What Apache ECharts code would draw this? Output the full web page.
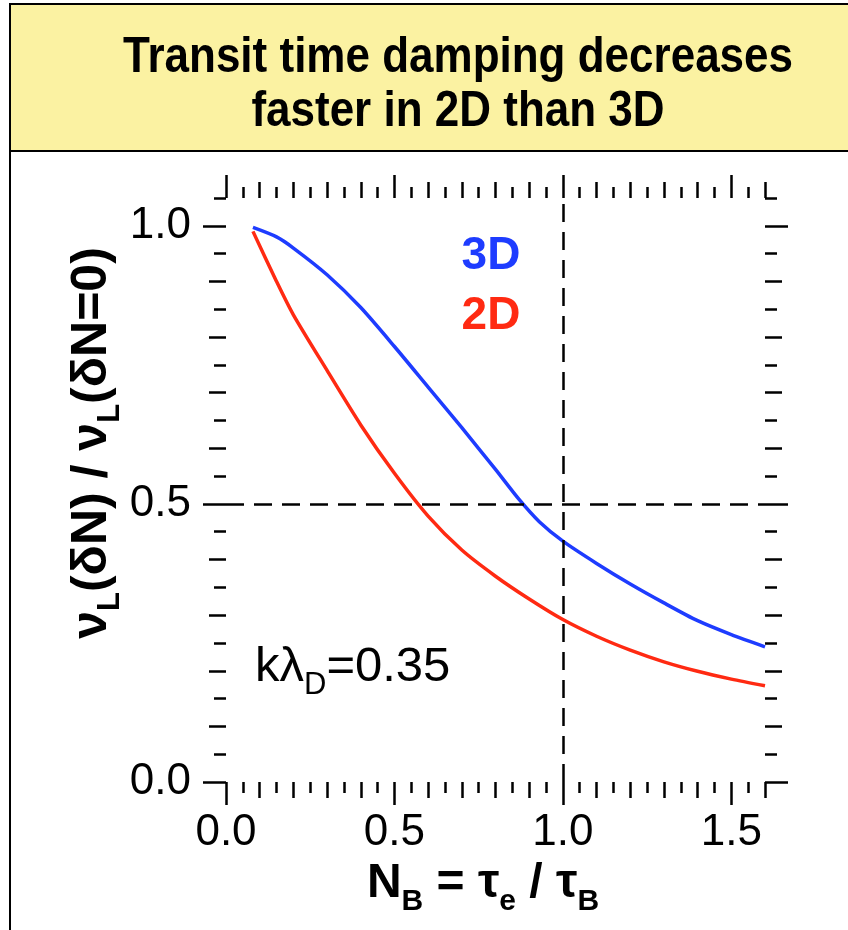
<!DOCTYPE html>
<html>
<head>
<meta charset="utf-8">
<script src="https://cdn.jsdelivr.net/npm/echarts@6/dist/echarts.min.js"></script>
<style>
html,body{margin:0;padding:0;background:#fff;}
#c{width:848px;height:930px;}
</style>
</head>
<body>
<div id="c"></div>
<script>
// ---- data ----
const nB3D = [0.08, 0.15, 0.20, 0.30, 0.40, 0.50, 0.60, 0.70, 0.80, 0.87, 0.93, 1.00, 1.10, 1.20, 1.30, 1.40, 1.50, 1.60];
const ratio3D = [0.997, 0.980, 0.960, 0.912, 0.853, 0.783, 0.710, 0.637, 0.562, 0.508, 0.468, 0.433, 0.393, 0.356, 0.322, 0.290, 0.265, 0.243];
const nB2D = [0.08, 0.15, 0.20, 0.30, 0.40, 0.50, 0.60, 0.70, 0.80, 0.90, 1.00, 1.10, 1.20, 1.30, 1.40, 1.50, 1.60];
const ratio2D = [0.990, 0.900, 0.840, 0.740, 0.642, 0.555, 0.478, 0.417, 0.370, 0.329, 0.292, 0.262, 0.237, 0.216, 0.199, 0.185, 0.173];

// tick values
const xMajorTicks = [0, 0.5, 1.0, 1.5];
const xMidTicks = [0.1, 0.2, 0.3, 0.4, 0.6, 0.7, 0.8, 0.9, 1.1, 1.2, 1.3, 1.4, 1.6];
const xMinorTicks = [0.05, 0.15, 0.25, 0.35, 0.45, 0.55, 0.65, 0.75, 0.85, 0.95, 1.05, 1.15, 1.25, 1.35, 1.45, 1.55];
const yMajorTicks = [0, 0.5, 1.0];
const yMidTicks = [0.1, 0.2, 0.3, 0.4, 0.6, 0.7, 0.8, 0.9];
const yMinorTicks = [0.05, 0.15, 0.25, 0.35, 0.45, 0.55, 0.65, 0.75, 0.85, 0.95, 1.05];
const xRange = [0, 1.6];
const yRange = [0, 1.05];
const refX = 1.0, refY = 0.5;

const FONT = '"Liberation Sans", Arial, Helvetica, sans-serif';
const BLUE = '#1e3cff';
const RED = '#ff2a12';
const TICKW = 2.5;

const chart = echarts.init(document.getElementById('c'), null, {renderer: 'canvas'});

const gridRect = {left: 226, right: 83, top: 198, bottom: 148};

function mkAxis(kind, grid, pos, ticks, len, labels) {
  const a = {
    type: 'value', gridIndex: grid, position: pos,
    min: kind === 'x' ? xRange[0] : yRange[0],
    max: kind === 'x' ? xRange[1] : yRange[1],
    axisLine: {show: false, onZero: false},
    splitLine: {show: false},
    axisTick: {show: true, inside: false, length: len, customValues: ticks,
      lineStyle: {color: '#000', width: TICKW}},
    axisLabel: {show: false}
  };
  if (labels) {
    a.axisLabel = {
      show: true, customValues: ticks, color: '#000', fontFamily: FONT, fontSize: 44,
      margin: kind === 'x' ? 29 : 35,
      formatter: v => Number(v).toFixed(1)
    };
  }
  return a;
}

const xAxes = [
  mkAxis('x', 0, 'bottom', xMajorTicks, 23, true),
  mkAxis('x', 0, 'top', xMajorTicks, 23, false),
  mkAxis('x', 1, 'bottom', xMidTicks, 16, false),
  mkAxis('x', 1, 'top', xMidTicks, 16, false),
  mkAxis('x', 2, 'bottom', xMinorTicks, 11, false),
  mkAxis('x', 2, 'top', xMinorTicks, 11, false)
];
const yAxes = [
  mkAxis('y', 0, 'left', yMajorTicks, 23, true),
  mkAxis('y', 0, 'right', yMajorTicks, 23, false),
  mkAxis('y', 1, 'left', yMidTicks, 17, false),
  mkAxis('y', 1, 'right', yMidTicks, 17, false),
  mkAxis('y', 2, 'left', yMinorTicks, 12, false),
  mkAxis('y', 2, 'right', yMinorTicks, 12, false)
];

const option = {
  animation: false,
  backgroundColor: '#fff',
  grid: [Object.assign({}, gridRect), Object.assign({}, gridRect), Object.assign({}, gridRect)],
  xAxis: xAxes,
  yAxis: yAxes,
  series: [
    {
      name: '3D', type: 'line', xAxisIndex: 0, yAxisIndex: 0,
      data: nB3D.map((x, i) => [x, ratio3D[i]]),
      showSymbol: false, smooth: 0.25,
      lineStyle: {color: BLUE, width: 3.5},
      markLine: {
        silent: true, symbol: ['none', 'none'], label: {show: false},
        lineStyle: {color: '#000', width: 2.5, type: [18, 10]},
        data: [{xAxis: refX}, {yAxis: refY}]
      },
      z: 3
    },
    {
      name: '2D', type: 'line', xAxisIndex: 0, yAxisIndex: 0,
      data: nB2D.map((x, i) => [x, ratio2D[i]]),
      showSymbol: false, smooth: 0.25,
      lineStyle: {color: RED, width: 3.5},
      z: 3
    }
  ],
  graphic: [
    {type: 'rect', shape: {x: 10, y: 4, width: 860, height: 147},
      style: {fill: '#fbf2a2', stroke: '#000', lineWidth: 2}, z: 0},
    {type: 'line', shape: {x1: 10, y1: 151, x2: 10, y2: 935},
      style: {stroke: '#000', lineWidth: 2}},
    {type: 'text', x: 458, y: 58, scaleY: 1.15,
      style: {text: 'Transit time damping decreases', font: 'bold 44px ' + FONT, fill: '#000', align: 'center', verticalAlign: 'middle'}},
    {type: 'text', x: 458, y: 112, scaleY: 1.15,
      style: {text: 'faster in 2D than 3D', font: 'bold 44px ' + FONT, fill: '#000', align: 'center', verticalAlign: 'middle'}},
    {type: 'text', x: 90, y: 443, rotation: Math.PI / 2,
      style: {
        text: '{a|ν}{s|L}{a|(δN) / ν}{s|L}{a|(δN=0)}',
        align: 'center', verticalAlign: 'middle', fill: '#000',
        rich: {
          a: {fontFamily: FONT, fontSize: 50, fontWeight: 'bold', lineHeight: 54, verticalAlign: 'bottom'},
          s: {fontFamily: FONT, fontSize: 31, fontWeight: 'bold', lineHeight: 31, verticalAlign: 'bottom', padding: [0, 0, -9, 0]}
        }
      }},
    {type: 'text', x: 483, y: 882,
      style: {
        text: '{a|N}{s|B}{a| = τ}{s|e}{a| / τ}{s|B}',
        align: 'center', verticalAlign: 'middle', fill: '#000',
        rich: {
          a: {fontFamily: FONT, fontSize: 48, fontWeight: 'bold', lineHeight: 52, verticalAlign: 'bottom'},
          s: {fontFamily: FONT, fontSize: 30, fontWeight: 'bold', lineHeight: 30, verticalAlign: 'bottom', padding: [0, 0, -9, 0]}
        }
      }},
    {type: 'text', x: 491, y: 256,
      style: {text: '3D', font: 'bold 46px ' + FONT, fill: BLUE, align: 'center', verticalAlign: 'middle'}},
    {type: 'text', x: 491, y: 316,
      style: {text: '2D', font: 'bold 46px ' + FONT, fill: RED, align: 'center', verticalAlign: 'middle'}},
    {type: 'text', x: 255, y: 666,
      style: {
        text: '{a|kλ}{s|D}{a|=0.35}',
        align: 'left', verticalAlign: 'middle', fill: '#000',
        rich: {
          a: {fontFamily: FONT, fontSize: 49, lineHeight: 52, verticalAlign: 'bottom'},
          s: {fontFamily: FONT, fontSize: 31, lineHeight: 31, verticalAlign: 'bottom', padding: [0, 0, -9, 0]}
        }
      }}
  ]
};
chart.setOption(option);
</script>
</body>
</html>
